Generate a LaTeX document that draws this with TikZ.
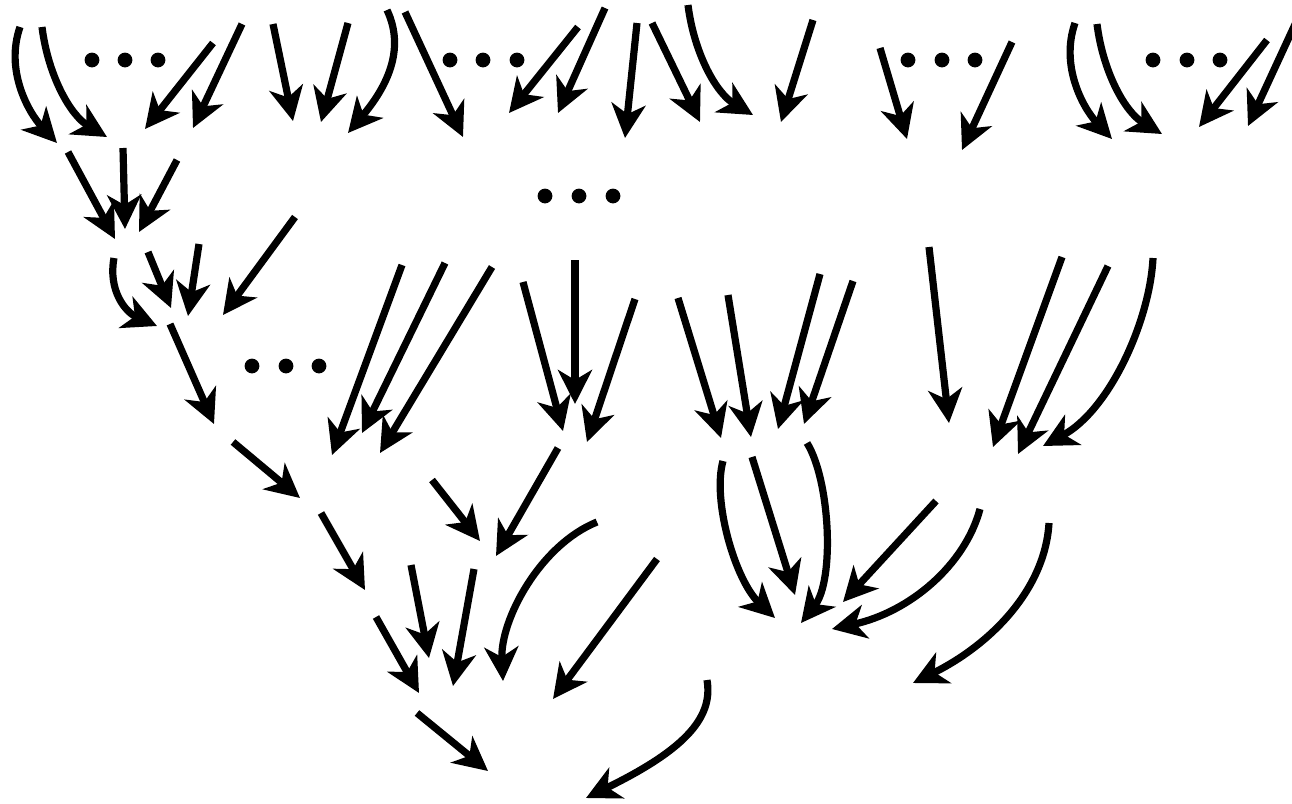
\documentclass[tikz,border=0pt]{standalone}
\usetikzlibrary{arrows.meta}
\begin{document}
\begin{tikzpicture}[x=0.5pt,y=-0.5pt,
  ar/.style={line width=3.6pt,-{Stealth[length=17pt,width=17pt,inset=5pt]}},
  dot/.style={fill=black}]
\fill[white] (0,0) rectangle (1292,804);
\useasboundingbox (0,0) rectangle (1292,804);
% straight connectors
\foreach \i/\s/\t in {
  3/{213,43}/{145,129}, 4/{242,24}/{193,128}, 5/{273,24}/{293,121},
  6/{348,23}/{321,122}, 8/{405,12}/{463,137}, 9/{578,27}/{509,113},
  10/{605,8}/{558,113}, 11/{637,23}/{625,138}, 12/{652,23}/{700,122},
  14/{813,20}/{781,122}, 15/{880,48}/{907,139}, 16/{1012,42}/{962,150},
  19/{1267,40}/{1199,127}, 20/{1297,20}/{1248,126},
  21/{68,152}/{115,239}, 22/{123,148}/{125,229}, 23/{177,160}/{139,232},
  24/{295,217}/{223,315}, 26/{148,252}/{171,308}, 27/{199,244}/{188,316},
  28/{170,324}/{214,424}, 29/{233,442}/{300,498}, 30/{402,265}/{332,455},
  31/{445,263}/{362,433}, 32/{492,267}/{380,453}, 33/{523,282}/{563,431},
  34/{575,260}/{575,404}, 35/{635,299}/{587,442}, 36/{678,298}/{721,438},
  37/{728,295}/{751,437}, 38/{820,274}/{778,429}, 39/{853,281}/{804,424},
  40/{929,247}/{949,423}, 41/{1062,257}/{993,447}, 42/{1108,266}/{1018,454},
  44/{558,448}/{496,556}, 45/{432,480}/{480,541}, 46/{321,513}/{365,590},
  48/{411,565}/{429,658}, 49/{474,569}/{453,686}, 50/{657,559}/{553,699},
  51/{376,617}/{419,693}, 52/{417,713}/{488,771}, 55/{752,457}/{795,595},
  57/{936,501}/{843,602}}
{
  \coordinate (s\i) at (\s);
  \coordinate (t\i) at (\t);
  \draw[ar] (s\i) -- (t\i);
}
% curved connectors
\foreach \i/\s/\p/\q/\t in {
  1/{20,27}/{5,70}/{28,112}/{57,143},
  2/{42,27}/{48,75}/{70,115}/{107,137},
  7/{387,10}/{406,50}/{386,88}/{348,133},
  13/{688,5}/{694,53}/{716,93}/{753,115},
  17/{1075,23}/{1060,66}/{1083,108}/{1112,139},
  18/{1097,24}/{1103,72}/{1125,112}/{1162,134},
  25/{114,258}/{108,290}/{125,312}/{157,326},
  43/{1153,258}/{1150,320}/{1110,410}/{1043,446},
  47/{597,522}/{540,545}/{500,620}/{503,681},
  53/{707,680}/{714,720}/{680,752}/{586,798},
  54/{723,461}/{712,500}/{735,580}/{775,618},
  56/{807,443}/{830,480}/{835,580}/{801,623},
  58/{980,509}/{965,565}/{910,612}/{832,629},
  59/{1049,523}/{1045,590}/{990,645}/{913,683}}
{
  \coordinate (s\i) at (\s);
  \coordinate (t\i) at (\t);
  \draw[ar] (s\i) .. controls (\p) and (\q) .. (t\i);
}
% ellipsis dots
\foreach \x/\y in {92/60,125/60,158/60, 450/60,483/60,517/60,
  908/60,942/60,975/60, 1153/60,1187/60,1220/60,
  545/196,579/196,613/196, 252/366,286/366,319/366}
  \fill[dot] (\x,\y) circle[radius=3.7pt];
\end{tikzpicture}
\end{document}
